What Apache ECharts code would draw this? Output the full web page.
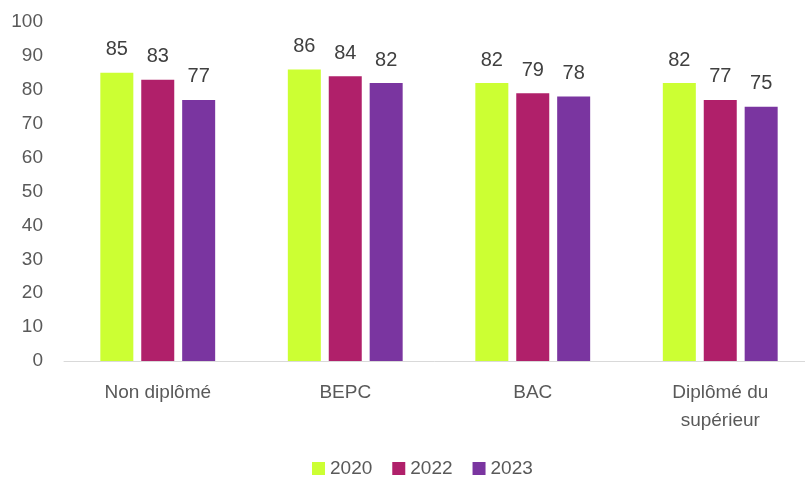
<!DOCTYPE html>
<html>
<head>
<meta charset="utf-8">
<script src="https://cdn.jsdelivr.net/npm/echarts@6/dist/echarts.min.js"></script>
<style>
  html, body { margin: 0; padding: 0; background: #fff; }
  #chart { width: 805px; height: 477px; }
</style>
</head>
<body>
<div id="chart"></div>
<script>
// categories and values
const categories = ['Non diplômé', 'BEPC', 'BAC', 'Diplômé du\nsupérieur']
const years = ['2020', '2022', '2023']
const values2020 = [85, 86, 82, 82]
const values2022 = [83, 84, 79, 77]
const values2023 = [77, 82, 78, 75]
const colors = ['#CCFF33', '#B0206A', '#7A35A0']

const font = 'Liberation Sans, Arial, sans-serif'
const allValues = [values2020, values2022, values2023]

const chart = echarts.init(document.getElementById('chart'))
chart.setOption({
  animation: false,
  textStyle: { fontFamily: font },
  legend: {
    top: 459,
    left: 312,
    padding: 0,
    itemWidth: 13,
    itemHeight: 13,
    itemGap: 20,
    icon: 'rect',
    textStyle: { fontSize: 19, color: '#595959', fontFamily: font },
    data: years
  },
  grid: {
    left: 64,
    width: 750,
    top: 22,
    bottom: 116,
    outerBoundsMode: 'none'
  },
  xAxis: {
    type: 'category',
    data: categories,
    axisLine: { lineStyle: { color: '#D9D9D9', width: 1 } },
    axisTick: { show: false },
    axisLabel: {
      fontSize: 19,
      color: '#595959',
      margin: 18,
      lineHeight: 28,
      fontFamily: font
    }
  },
  yAxis: {
    type: 'value',
    min: 0,
    max: 100,
    interval: 10,
    splitLine: { show: false },
    axisLine: { show: false },
    axisTick: { show: false },
    axisLabel: { fontSize: 19, color: '#595959', margin: 21, fontFamily: font }
  },
  series: years.map((y, i) => ({
    name: y,
    type: 'bar',
    data: allValues[i],
    barWidth: 33,
    barGap: '24%',
    itemStyle: { color: colors[i] },
    label: {
      show: true,
      position: 'top',
      distance: 13,
      fontSize: 20,
      color: '#404040',
      fontFamily: font
    }
  }))
})
</script>
</body>
</html>
